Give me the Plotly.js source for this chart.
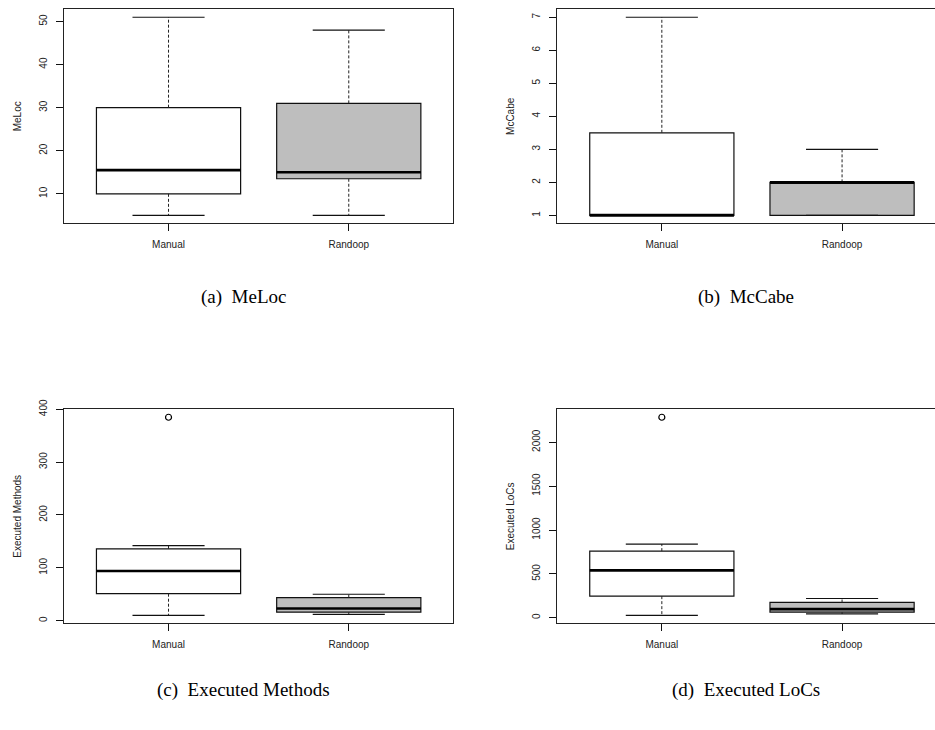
<!DOCTYPE html>
<html>
<head>
<meta charset="utf-8">
<script src="https://cdn.plot.ly/plotly-3.0.1.min.js"></script>
<style>html,body{margin:0;padding:0;background:#fff;}#chart{width:935px;height:730px;}</style>
</head>
<body>
<div id="chart"></div>
<script>
// ---- data ----
const groups = ["Manual", "Randoop"];
const metrics = ["MeLoc", "McCabe", "Executed Methods", "Executed LoCs"];
const captions = ["(a)\u00a0\u00a0MeLoc", "(b)\u00a0\u00a0McCabe", "(c)\u00a0\u00a0Executed Methods", "(d)\u00a0\u00a0Executed LoCs"];

// five-number summaries per metric: [Manual, Randoop]
const meloc_low    = [5, 5];
const meloc_q1     = [10, 13.5];
const meloc_med    = [15.5, 15];
const meloc_q3     = [30, 31];
const meloc_high   = [51, 48];
const meloc_out    = [[], []];

const mccabe_low   = [1, 1];
const mccabe_q1    = [1, 1];
const mccabe_med   = [1, 2];
const mccabe_q3    = [3.5, 2];
const mccabe_high  = [7, 3];
const mccabe_out   = [[], []];

const methods_low  = [10, 12];
const methods_q1   = [51, 16];
const methods_med  = [94, 23];
const methods_q3   = [136, 43.5];
const methods_high = [142, 50];
const methods_out  = [[385], []];

const locs_low     = [28, 45];
const locs_q1      = [247, 65];
const locs_med     = [540, 99];
const locs_q3      = [760, 175];
const locs_high    = [840, 220];
const locs_out     = [[2285], []];

const yTicks = [[10,20,30,40,50],[1,2,3,4,5,6,7],[0,100,200,300,400],[0,500,1000,1500,2000]];
const fills = ["#ffffff", "#bebebe"];

const stats = [
  {low: meloc_low, q1: meloc_q1, med: meloc_med, q3: meloc_q3, high: meloc_high, out: meloc_out},
  {low: mccabe_low, q1: mccabe_q1, med: mccabe_med, q3: mccabe_q3, high: mccabe_high, out: mccabe_out},
  {low: methods_low, q1: methods_q1, med: methods_med, q3: methods_q3, high: methods_high, out: methods_out},
  {low: locs_low, q1: locs_q1, med: locs_med, q3: locs_q3, high: locs_high, out: locs_out}
];

// ---- layout geometry ----
const W = 935, H = 730;
const pxL = [[64, 453.3], [557.3, 935]];          // left/right column x px
const pxT = [[9.3, 223.3], [409.3, 623.3]];        // top/bottom row y px
const pxPerUnit = (453.3 - 64) / 2.16;
const BOXW = 0.8, CAPW = 0.4;

const data = [];
const layout = {
  width: W, height: H,
  margin: {l: 0, r: 0, t: 0, b: 0},
  paper_bgcolor: "#fff", plot_bgcolor: "#fff",
  showlegend: false,
  font: {family: "Liberation Sans, Arial, sans-serif", size: 10, color: "#222"},
  annotations: []
};

stats.forEach((s, i) => {
  const col = i % 2, row = Math.floor(i / 2);
  const n = i + 1;
  const xa = "x" + (n === 1 ? "" : n), ya = "y" + (n === 1 ? "" : n);
  const xk = "xaxis" + (n === 1 ? "" : n), yk = "yaxis" + (n === 1 ? "" : n);

  // data range with R's 4% extension
  const all = [].concat(s.low, s.high, ...s.out);
  const mn = Math.min(...all), mx = Math.max(...all);
  const pad = (mx - mn) * 0.04;

  const x0px = pxL[col][0], x1px = pxL[col][1];
  const xr = [0.42, 0.42 + (x1px - x0px) / pxPerUnit];

  layout[xk] = {
    domain: [x0px / W, x1px / W],
    anchor: ya, range: xr, fixedrange: true,
    tickvals: [1, 2], ticktext: groups,
    ticks: "outside", ticklen: 7, tickwidth: 1, tickcolor: "#111",
    showline: true, mirror: true, linecolor: "#222", linewidth: 1,
    showgrid: false, zeroline: false,
    tickfont: {family: "Liberation Sans, Arial, sans-serif", size: 10, color: "#222"},
    ticklabelstandoff: 5
  };
  layout[yk] = {
    domain: [1 - pxT[row][1] / H, 1 - pxT[row][0] / H],
    anchor: xa, range: [mn - pad, mx + pad], fixedrange: true,
    tickvals: yTicks[i], tickangle: -90,
    ticks: "outside", ticklen: 7, tickwidth: 1, tickcolor: "#111",
    showline: true, mirror: col === 0, linecolor: "#222", linewidth: 1,
    showgrid: false, zeroline: false,
    tickfont: {family: "Liberation Sans, Arial, sans-serif", size: 10, color: "#222"},
    ticklabelstandoff: 5,
    title: {text: metrics[i], font: {family: "Liberation Sans, Arial, sans-serif", size: 10, color: "#222"}, standoff: 14}
  };

  groups.forEach((g, k) => {
    const xc = k + 1;
    // box body (no whiskers: fences set at the quartiles)
    data.push({
      type: "box", xaxis: xa, yaxis: ya,
      x: [xc], q1: [s.q1[k]], median: [s.med[k]], q3: [s.q3[k]],
      lowerfence: [s.q1[k]], upperfence: [s.q3[k]],
      width: BOXW, whiskerwidth: 0, boxpoints: false,
      fillcolor: fills[k], line: {color: "#111", width: 1.2},
      hoverinfo: "skip"
    });
    // dashed whiskers
    data.push({
      type: "scatter", mode: "lines", xaxis: xa, yaxis: ya,
      x: [xc, xc, null, xc, xc],
      y: [s.q3[k], s.high[k], null, s.q1[k], s.low[k]],
      line: {color: "#222", width: 1, dash: "3px,2px"}, hoverinfo: "skip"
    });
    // staples
    data.push({
      type: "scatter", mode: "lines", xaxis: xa, yaxis: ya,
      x: [xc - CAPW / 2, xc + CAPW / 2, null, xc - CAPW / 2, xc + CAPW / 2],
      y: [s.high[k], s.high[k], null, s.low[k], s.low[k]],
      line: {color: "#111", width: 1.2}, hoverinfo: "skip"
    });
    // thick median
    data.push({
      type: "scatter", mode: "lines", xaxis: xa, yaxis: ya,
      x: [xc - BOXW / 2, xc + BOXW / 2],
      y: [s.med[k], s.med[k]],
      line: {color: "#000", width: 2.6}, hoverinfo: "skip"
    });
    // outliers
    if (s.out[k].length) {
      data.push({
        type: "scatter", mode: "markers", xaxis: xa, yaxis: ya,
        x: s.out[k].map(() => xc), y: s.out[k],
        marker: {symbol: "circle-open", size: 6, color: "#000", line: {width: 1.2}},
        hoverinfo: "skip"
      });
    }
  });

  // caption under each panel
  const capX = [243, 746][col], capY = [297, 690][row];
  layout.annotations.push({
    text: captions[i], xref: "paper", yref: "paper",
    x: capX / W, y: 1 - capY / H, xanchor: "center", yanchor: "middle",
    showarrow: false,
    font: {family: "Liberation Serif, Times New Roman, serif", size: 19, color: "#000"}
  });
});

Plotly.newPlot("chart", data, layout, {staticPlot: true, displayModeBar: false});
</script>
</body>
</html>
